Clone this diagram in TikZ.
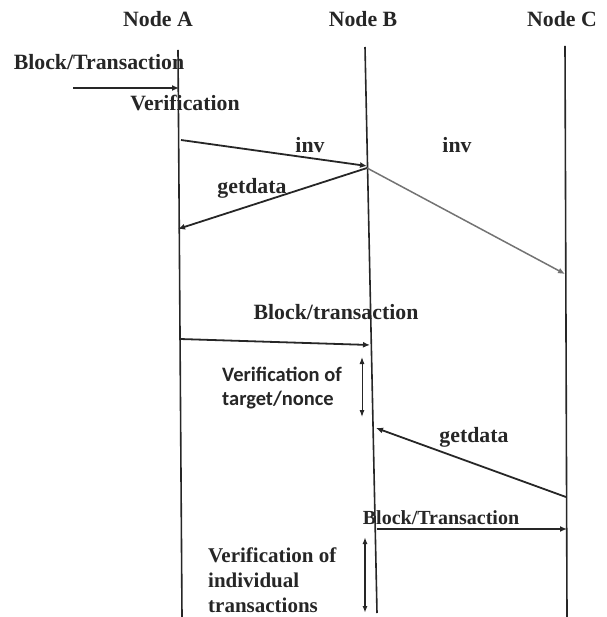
\documentclass[tikz,border=0pt]{standalone}
\usepackage{fontspec}
\setmainfont{Liberation Serif}
\newfontfamily\tnr{Liberation Serif}
\newfontfamily\calfont{Carlito}
\usetikzlibrary{arrows.meta}
\begin{document}
\begin{tikzpicture}[x=1pt,y=-1pt,
  lab/.style={font=\fontsize{21.8}{25}\selectfont\tnr\bfseries, text=black!85, inner sep=0pt},
  sanslab/.style={font=\fontsize{20.5}{24}\selectfont\calfont\bfseries, text=black!85, inner sep=0pt, align=left},
  life/.style={line width=1.6pt, black!85},
  msg/.style={line width=1.8pt, black!85, -{Latex[length=7pt,width=6pt]}},
  graymsg/.style={line width=1.5pt, black!55, -{Latex[length=7pt,width=6pt]}},
  span/.style={black!85, {Latex[length=7pt,width=5pt]}-{Latex[length=7pt,width=5pt]}}]
\useasboundingbox (0,0) rectangle (606,617);
% headers
\node[lab] (na) at (158,19) {Node A};
\node[lab] (nb) at (363,19) {Node B};
\node[lab] (nc) at (562,19) {Node C};
% lifelines
\coordinate (at) at (178,50); \coordinate (ab) at (182,617);
\coordinate (bt) at (365,47); \coordinate (bb) at (377,613);
\coordinate (ct) at (565,46); \coordinate (cb) at (567,617);
\draw[life] (at) -- (ab);
\draw[life] (bt) -- (bb);
\draw[life] (ct) -- (cb);
% incoming block
\node[lab] (bt1) at (99,62) {Block/Transaction};
\coordinate (in0) at (73,88); \coordinate (in1) at (179,88);
\draw[msg] (in0) -- (in1);
\node[lab] (ver) at (185,103) {Verification};
% inv A->B
\coordinate (a1) at (181,140); \coordinate (b1) at (367,166);
\draw[msg] (a1) -- (b1);
\node[lab] (inv1) at (310,145) {inv};
% getdata B->A
\coordinate (b2) at (367,168); \coordinate (a2) at (178,229);
\draw[msg] (b2) -- (a2);
\node[lab] (gd1) at (252,188) {getdata};
% inv B->C
\coordinate (c1) at (565,274);
\draw[graymsg] (b2) -- (c1);
\node[lab] (inv2) at (457,145) {inv};
% block/transaction A->B
\node[lab] (bt2) at (336,312) {Block/transaction};
\coordinate (a3) at (180,339); \coordinate (b3) at (370,345);
\draw[msg] (a3) -- (b3);
% verification target/nonce
\node[sanslab, anchor=west] (vt) at (222,388) {Verification of\\target/nonce};
\coordinate (s1) at (362,357); \coordinate (s2) at (362,417);
\draw[span, line width=1pt] (s1) -- (s2);
% getdata C->B
\coordinate (c2) at (566,497); \coordinate (b4) at (376,428);
\draw[msg] (c2) -- (b4);
\node[lab] (gd2) at (474,437) {getdata};
% block/transaction B->C
\node[lab, font=\fontsize{20}{24}\selectfont\tnr\bfseries] (bt3) at (441,518) {Block/Transaction};
\coordinate (b5) at (377,529); \coordinate (c3) at (567,529);
\draw[msg] (b5) -- (c3);
% verification of individual transactions
\node[lab, align=left, anchor=west, font=\fontsize{21}{25}\selectfont\tnr\bfseries] (vi) at (208,580) {Verification of\\individual\\transactions};
\coordinate (s3) at (365,537); \coordinate (s4) at (365,613);
\draw[span, line width=1.8pt] (s3) -- (s4);
\end{tikzpicture}
\end{document}
